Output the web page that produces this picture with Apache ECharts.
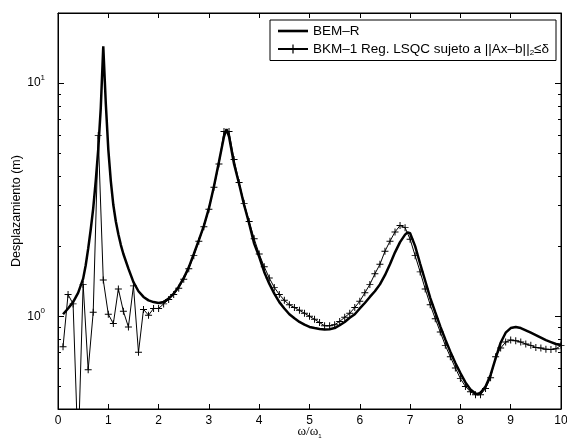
<!DOCTYPE html>
<html>
<head>
<meta charset="utf-8">
<script src="https://cdn.jsdelivr.net/npm/echarts@6/dist/echarts.min.js"></script>
<style>html,body{margin:0;padding:0;background:#fff}#c{width:567px;height:441px}</style>
</head>
<body>
<div id="c"></div>
<script>
// ---- data ----
const bemX = [0.1,0.2,0.3,0.4,0.5,0.55,0.6,0.65,0.7,0.75,0.8,0.85,0.9,0.95,1.0,1.05,1.1,1.15,1.2,1.25,1.3,1.4,1.5,1.6,1.7,1.8,1.9,2.0,
  2.1,2.2,2.3,2.4,2.5,2.6,2.7,2.8,2.9,3.0,3.1,3.2,3.3,3.35,3.4,3.5,3.6,3.7,3.8,3.9,4.0,
  4.1,4.2,4.3,4.4,4.5,4.6,4.7,4.8,4.9,5.0,5.1,5.2,5.3,5.4,5.5,5.6,5.7,5.8,5.9,6.0,
  6.1,6.2,6.3,6.4,6.5,6.6,6.7,6.8,6.9,6.95,7.0,7.1,7.2,7.3,7.4,7.5,7.6,7.7,7.8,7.9,8.0,
  8.1,8.2,8.3,8.35,8.4,8.5,8.6,8.7,8.8,8.9,9.0,9.1,9.2,9.3,9.4,9.5,9.6,9.7,9.8,9.9,10.0];
const bemY = [1.02,1.08,1.15,1.26,1.45,1.65,1.95,2.35,2.9,3.8,5.2,7.8,14.4,8.2,5.2,3.8,3.0,2.55,2.25,2.02,1.85,1.6,1.4,1.28,1.21,1.17,1.15,1.14,
  1.15,1.19,1.25,1.34,1.46,1.62,1.85,2.12,2.44,2.9,3.6,4.6,5.9,6.35,5.9,4.5,3.7,3.0,2.5,2.05,1.8,
  1.55,1.38,1.25,1.15,1.08,1.02,0.98,0.945,0.92,0.90,0.89,0.882,0.878,0.88,0.89,0.915,0.945,0.985,1.02,1.08,
  1.14,1.21,1.28,1.37,1.5,1.67,1.88,2.08,2.24,2.29,2.27,2.0,1.68,1.42,1.2,1.04,0.905,0.795,0.705,0.63,0.57,
  0.52,0.485,0.466,0.464,0.47,0.5,0.56,0.66,0.77,0.85,0.89,0.9,0.89,0.87,0.85,0.83,0.81,0.79,0.775,0.76,0.755];

const bkmX = [0.1,0.2,0.3,0.4,0.5,0.6,0.7,0.8,0.9,1.0,1.1,1.2,1.3,1.4,1.5,1.6,1.7,1.8,1.9,2.0,
  2.1,2.2,2.3,2.4,2.5,2.6,2.7,2.8,2.9,3.0,3.1,3.2,3.3,3.4,3.5,3.6,3.7,3.8,3.9,4.0,
  4.1,4.2,4.3,4.4,4.5,4.6,4.7,4.8,4.9,5.0,5.1,5.2,5.3,5.4,5.5,5.6,5.7,5.8,5.9,6.0,
  6.1,6.2,6.3,6.4,6.5,6.6,6.7,6.8,6.9,7.0,7.1,7.2,7.3,7.4,7.5,7.6,7.7,7.8,7.9,8.0,
  8.1,8.2,8.3,8.4,8.5,8.6,8.7,8.8,8.9,9.0,9.1,9.2,9.3,9.4,9.5,9.6,9.7,9.8,9.9,10.0];
const bkmY = [0.74,1.24,1.13,0.26,1.37,0.59,1.04,5.97,1.43,1.02,0.93,1.31,1.05,0.90,1.35,0.70,1.07,1.01,1.08,1.08,
  1.13,1.18,1.24,1.32,1.44,1.60,1.82,2.10,2.42,2.88,3.58,4.5,6.2,6.2,4.7,3.75,3.05,2.55,2.15,1.85,
  1.63,1.46,1.33,1.24,1.17,1.12,1.09,1.06,1.03,1.0,0.97,0.94,0.91,0.91,0.92,0.95,0.99,1.03,1.09,1.16,
  1.26,1.37,1.52,1.67,1.9,2.1,2.3,2.45,2.4,2.14,1.82,1.55,1.31,1.12,0.976,0.856,0.75,0.67,0.60,0.54,
  0.50,0.474,0.46,0.46,0.49,0.545,0.67,0.73,0.775,0.79,0.785,0.775,0.76,0.75,0.735,0.73,0.722,0.72,0.725,0.75];

const xTickValues = [0,1,2,3,4,5,6,7,8,9,10];
const yMajorTicks = [1, 10];
const yMinorTicks = [0.5,0.6,0.7,0.8,0.9,2,3,4,5,6,7,8,9];
const yLabels = {1: '0', 10: '1'};

// ---- chart ----
const FONT = '"Liberation Sans", Arial, Helvetica, sans-serif';
const bem = bemX.map((x, i) => [x, bemY[i]]);
const bkm = bkmX.map((x, i) => [x, bkmY[i]]);
const plus = 'path://M4.3 0H5.7V4.3H10V5.7H5.7V10H4.3V5.7H0V4.3H4.3Z';
const thickLineIcon = 'path://M0 0H30V2.6H0Z';

function yAxisDef(pos, ticks, len, labels, line) {
  return {
    type: 'log', logBase: 10, min: 0.4, max: 20, position: pos,
    name: labels ? 'Desplazamiento (m)' : '',
    nameLocation: 'middle', nameGap: 35, nameMoveOverlap: false,
    nameTextStyle: {color: '#000', fontFamily: FONT, fontSize: 12.5},
    axisLine: {show: line, lineStyle: {color: '#000', width: 1}},
    axisTick: {show: true, inside: true, length: len, customValues: ticks, lineStyle: {color: '#000', width: 1}},
    axisLabel: labels ? {
      show: true, customValues: yMajorTicks, margin: 13, color: '#000',
      formatter: v => '{b|10}{s|' + yLabels[Math.round(v)] + '}',
      rich: {
        b: {fontFamily: FONT, fontSize: 12, color: '#000', lineHeight: 18},
        s: {fontFamily: FONT, fontSize: 8, color: '#000', verticalAlign: 'top', lineHeight: 9}
      }
    } : {show: false},
    splitLine: {show: false}, minorTick: {show: false}
  };
}

function xAxisDef(pos, labels) {
  return {
    type: 'value', min: 0, max: 10, interval: 1, position: pos,
    name: labels ? '{w|ω/ω}{s|1}' : '',
    nameLocation: 'middle', nameGap: 16, nameMoveOverlap: false,
    nameTextStyle: {
      rich: {
        w: {fontFamily: '"Liberation Serif", "Times New Roman", serif', fontSize: 13, color: '#000', lineHeight: 14},
        s: {fontFamily: FONT, fontSize: 6, color: '#000', verticalAlign: 'bottom', lineHeight: 6}
      }
    },
    axisLine: {show: true, onZero: false, lineStyle: {color: '#000', width: 1}},
    axisTick: {show: true, inside: true, length: 5, lineStyle: {color: '#000', width: 1}},
    axisLabel: labels ? {show: true, margin: 6, color: '#000', fontFamily: FONT, fontSize: 12} : {show: false},
    splitLine: {show: false}
  };
}

const chart = echarts.init(document.getElementById('c'), null, {renderer: 'canvas'});
chart.setOption({
  backgroundColor: '#fff',
  animation: false,
  grid: {left: 58, right: 6, top: 13, bottom: 32, show: true, borderColor: '#000', borderWidth: 1,
         backgroundColor: '#fff', containLabel: false, outerBoundsMode: 'none'},
  xAxis: [xAxisDef('bottom', true), xAxisDef('top', false)],
  yAxis: [
    yAxisDef('left', yMajorTicks, 6, true, true),
    yAxisDef('left', yMinorTicks, 3, false, false),
    yAxisDef('right', yMajorTicks, 6, false, true),
    yAxisDef('right', yMinorTicks, 3, false, false)
  ],
  legend: {
    orient: 'vertical', left: 270, top: 20,
    padding: [4, 7, 4, 7], itemGap: 4, itemWidth: 30, itemHeight: 11,
    borderColor: '#000', borderWidth: 1, backgroundColor: '#fff', borderRadius: 0,
    data: [{name: 'BEM–R', icon: thickLineIcon}, {name: 'BKM–1'}],
    formatter: n => n === 'BEM–R' ? '{a|BEM–R}' : '{a|BKM–1 Reg. LSQC sujeto a ||Ax–b||}{s|2}{a|≤δ}',
    textStyle: {
      color: '#000', fontFamily: FONT, fontSize: 13.5,
      rich: {
        a: {fontFamily: FONT, fontSize: 13.5, color: '#000', lineHeight: 15},
        s: {fontFamily: FONT, fontSize: 8, color: '#000', verticalAlign: 'bottom', lineHeight: 8}
      }
    }
  },
  series: [
    {
      name: 'BEM–R', type: 'line', data: bem, xAxisIndex: 0, yAxisIndex: 0,
      showSymbol: false, symbol: 'none', clip: true,
      lineStyle: {color: '#000', width: 2.5},
      itemStyle: {color: '#000'}
    },
    {
      name: 'BKM–1', type: 'line', data: bkm, xAxisIndex: 0, yAxisIndex: 0,
      symbol: plus, symbolSize: 7, showSymbol: true, clip: true,
      lineStyle: {color: '#000', width: 1},
      itemStyle: {color: '#000'}
    }
  ]
});
</script>
</body>
</html>
